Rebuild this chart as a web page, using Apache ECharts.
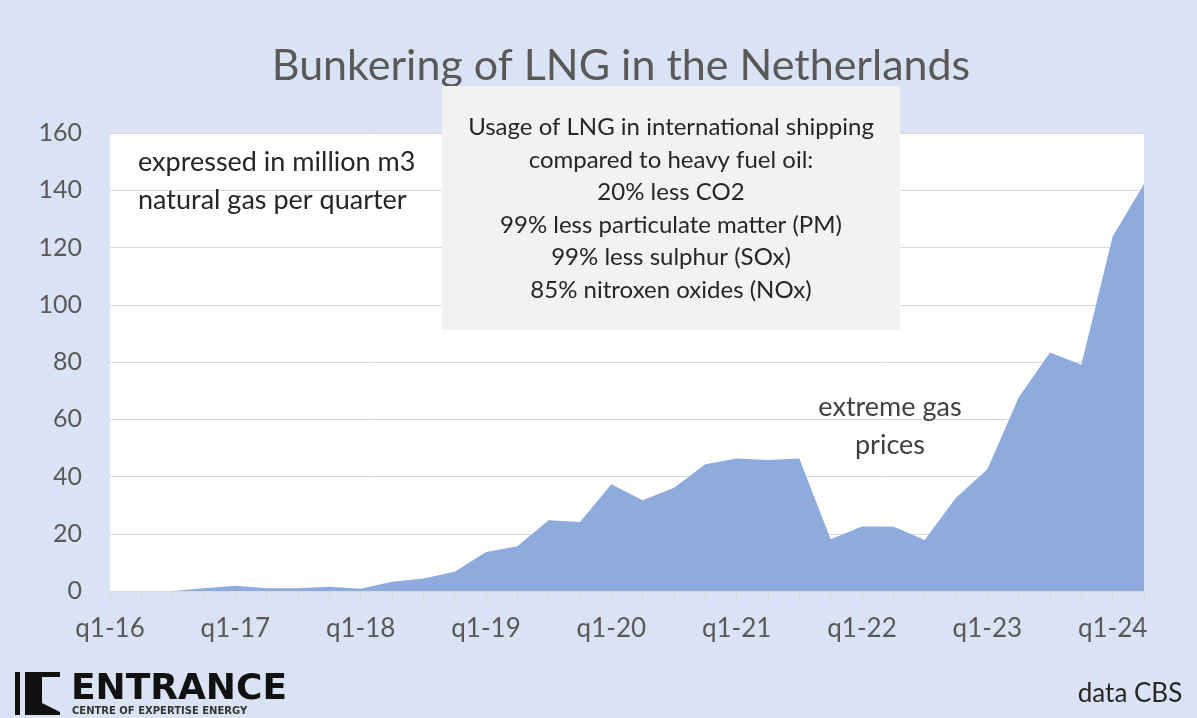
<!DOCTYPE html>
<html>
<head>
<meta charset="utf-8">
<title>Bunkering of LNG in the Netherlands</title>
<script src="https://cdn.jsdelivr.net/npm/echarts@6/dist/echarts.min.js"></script>
<style>
  html, body { margin: 0; padding: 0; background: #dae3f3; }
  #chart { width: 1197px; height: 718px; }
</style>
</head>
<body>
<div id="chart"></div>
<script>
// quarters q1-16 .. q2-24
const quarters = [
  "q1-16", "q2-16", "q3-16", "q4-16",
  "q1-17", "q2-17", "q3-17", "q4-17",
  "q1-18", "q2-18", "q3-18", "q4-18",
  "q1-19", "q2-19", "q3-19", "q4-19",
  "q1-20", "q2-20", "q3-20", "q4-20",
  "q1-21", "q2-21", "q3-21", "q4-21",
  "q1-22", "q2-22", "q3-22", "q4-22",
  "q1-23", "q2-23", "q3-23", "q4-23",
  "q1-24", "q2-24"
];

// million m3 natural gas per quarter
const lngVolume = [
  0, 0, 0, 1.0,
  1.8, 1.0, 1.0, 1.5,
  0.8, 3.2, 4.4, 6.7,
  13.6, 15.6, 24.7, 24.1,
  37.3, 31.7, 36.1, 44.3,
  46.3, 45.8, 46.3, 18.1,
  22.5, 22.5, 17.8, 32.6,
  42.5, 67.6, 83.3, 79.0,
  123.8, 142.2
];

const titleText = "Bunkering of LNG in the Netherlands";
const unitLines = ["expressed in million m3", "natural gas per quarter"];
const boxLines = [
  "Usage of LNG in international shipping",
  "compared to heavy fuel oil:",
  "20% less CO2",
  "99% less particulate matter (PM)",
  "99% less sulphur (SOx)",
  "85% nitroxen oxides (NOx)"
];
const priceNote = ["extreme gas", "prices"];

const font = "Lato, 'Open Sans', sans-serif";
const chart = echarts.init(document.getElementById("chart"));

const option = {
  backgroundColor: "#dae3f3",
  animation: false,
  title: {
    text: titleText,
    left: 616,
    top: 40,
    textAlign: "center",
    textStyle: { fontFamily: font, fontSize: 43, fontWeight: "normal", color: "#595959" }
  },
  grid: { left: 110, right: 53, top: 133, bottom: 127, show: true, backgroundColor: "#ffffff", borderWidth: 0 },
  xAxis: {
    type: "category",
    data: quarters,
    boundaryGap: false,
    axisLine: { lineStyle: { color: "#d9d9d9", width: 1 } },
    axisTick: { show: true, interval: 0, length: 9, lineStyle: { color: "#d9d9d9" } },
    axisLabel: { interval: 3, margin: 25, fontFamily: font, fontSize: 26, color: "#595959" },
    splitLine: { show: false }
  },
  yAxis: {
    type: "value",
    min: 0,
    max: 160,
    interval: 20,
    axisLine: { show: false },
    axisTick: { show: false },
    axisLabel: { margin: 28, fontFamily: font, fontSize: 25, color: "#595959" },
    splitLine: { lineStyle: { color: "#d9d9d9", width: 1 } }
  },
  series: [
    {
      type: "line",
      data: lngVolume,
      symbol: "none",
      lineStyle: { width: 0 },
      areaStyle: { color: "#8faadc", opacity: 1 },
      z: 2
    }
  ],
  graphic: [
    // info box
    {
      type: "rect",
      shape: { x: 442, y: 86, width: 458, height: 244 },
      style: { fill: "#f2f2f2" },
      z: 10
    },
    {
      type: "text",
      x: 671, y: 111,
      z: 11,
      style: {
        text: boxLines.join("\n"),
        textAlign: "center",
        fontFamily: font, fontSize: 24, lineHeight: 32.6, fill: "#262626"
      }
    },
    {
      type: "text",
      x: 138, y: 143,
      z: 11,
      style: { text: unitLines.join("\n"), fontFamily: font, fontSize: 27, lineHeight: 38, fill: "#262626" }
    },
    {
      type: "text",
      x: 890, y: 388,
      z: 11,
      style: { text: priceNote.join("\n"), textAlign: "center", fontFamily: font, fontSize: 27, lineHeight: 38, fill: "#404040" }
    },
    {
      type: "text",
      x: 1130, y: 681,
      style: { text: "data CBS", textAlign: "center", fontFamily: font, fontSize: 26, fill: "#262626" }
    },
    // logo
    { type: "rect", shape: { x: 15, y: 672, width: 5, height: 43 }, style: { fill: "#111" } },
    { type: "rect", shape: { x: 25, y: 672, width: 17, height: 43 }, style: { fill: "#111" } },
    { type: "rect", shape: { x: 25, y: 672, width: 35, height: 5 }, style: { fill: "#111" } },
    { type: "polygon", shape: { points: [[42, 703], [60, 712], [60, 715], [42, 715]] }, style: { fill: "#111" } },
    {
      type: "text",
      x: 71, y: 672,
      style: { text: "ENTRANCE", fontFamily: "'DejaVu Sans', sans-serif", fontWeight: "bold", fontSize: 36, fill: "#111" }
    },
    {
      type: "text",
      x: 72, y: 706,
      style: { text: "CENTRE OF EXPERTISE ENERGY", fontFamily: "'DejaVu Sans', sans-serif", fontWeight: "bold", fontSize: 10, fill: "#333" }
    }
  ]
};

chart.setOption(option);
</script>
</body>
</html>
